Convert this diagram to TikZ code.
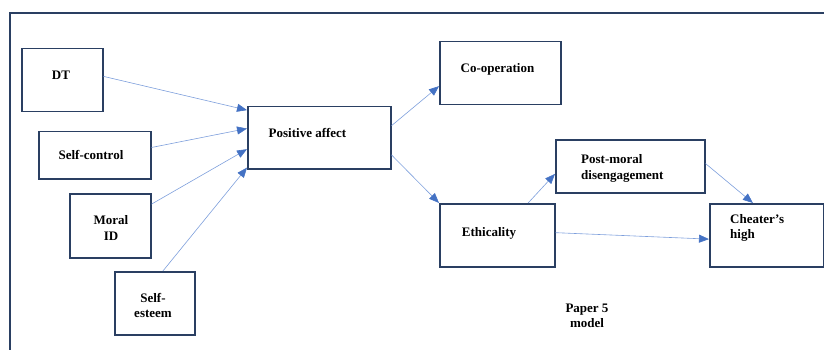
\documentclass[tikz,border=0pt]{standalone}
\usepackage{fontspec}
\setmainfont{Liberation Serif}
\usetikzlibrary{arrows.meta,calc}
\definecolor{boxline}{HTML}{2A3F62}
\definecolor{linkline}{HTML}{7E9FDC}
\definecolor{linkhead}{HTML}{4472C4}
\begin{document}
\begin{tikzpicture}[x=1pt,y=-1pt,
  box/.style={draw=boxline,line width=1.5pt,inner sep=0pt,anchor=north west},
  lbl/.style={font=\bfseries\fontsize{13}{15.5}\selectfont,inner sep=0pt,align=center},
  link/.style={draw=linkline,line width=0.6pt,
    -{Triangle[length=10pt,width=8pt,color=linkhead]}}]
\useasboundingbox (0,0) rectangle (824,350);

% open frame along the left and top
\draw[boxline,line width=1.5pt] (10,352) -- (10,13) -- (830,13);

% boxes
\node[box,minimum width=81pt,minimum height=63pt]  (dt)   at (21,48)  {};
\node[box,minimum width=112pt,minimum height=47pt] (sc)   at (38,131) {};
\node[box,minimum width=81pt,minimum height=64pt]  (mid)  at (69,193) {};
\node[box,minimum width=80pt,minimum height=63pt]  (se)   at (114,271) {};
\node[box,minimum width=143pt,minimum height=62pt] (pa)   at (247,106) {};
\node[box,minimum width=121pt,minimum height=63pt] (coop) at (439,41) {};
\node[box,minimum width=115pt,minimum height=63pt] (eth)  at (439,203) {};
\node[box,minimum width=149pt,minimum height=53pt] (pmd)  at (555,139) {};
\node[box,minimum width=114pt,minimum height=63pt] (ch)   at (709,203) {};

% labels
\node[lbl] (dtl)   at (61,75)    {DT};
\node[lbl] (scl)   at (91,155)   {Self-control};
\node[lbl] (midl)  at (111,228)  {Moral\\ID};
\node[lbl] (sel)   at (153,305.5){Self-\\esteem};
\node[lbl] (pal)   at (307.5,133){Positive affect};
\node[lbl] (coopl) at (497.5,69) {Co-operation};
\node[lbl] (ethl)  at (489,233)  {Ethicality};
\node[lbl,anchor=west,align=left] (pmdl) at (581,168.5) {Post-moral\\disengagement};
\node[lbl,anchor=west,align=left] (chl)  at (730,228)   {Cheater’s\\high};
\node[lbl] (paper) at (587,316)  {Paper 5\\model};

% connectors
\draw[link] ($(dt.north east)!0.44!(dt.south east)$)  -- ($(pa.north west)!0.065!(pa.south west)$);
\draw[link] ($(sc.north east)!0.34!(sc.south east)$)  -- ($(pa.north west)!0.355!(pa.south west)$);
\draw[link] ($(mid.north east)!0.17!(mid.south east)$) -- ($(pa.north west)!0.68!(pa.south west)$);
\draw[link] ($(se.north west)!0.6!(se.north east)$)   -- ($(pa.north west)!0.97!(pa.south west)$);
\draw[link] ($(pa.north east)!0.31!(pa.south east)$)  -- ($(coop.north west)!0.70!(coop.south west)$);
\draw[link] ($(pa.north east)!0.77!(pa.south east)$)  -- (eth.north west);
\draw[link] ($(eth.north west)!0.765!(eth.north east)$) -- ($(pmd.north west)!0.64!(pmd.south west)$);
\draw[link] ($(pmd.north east)!0.45!(pmd.south east)$) -- ($(ch.north west)!0.38!(ch.north east)$);
\draw[link] ($(eth.north east)!0.46!(eth.south east)$) -- ($(ch.north west)!0.56!(ch.south west)$);
\end{tikzpicture}
\end{document}
